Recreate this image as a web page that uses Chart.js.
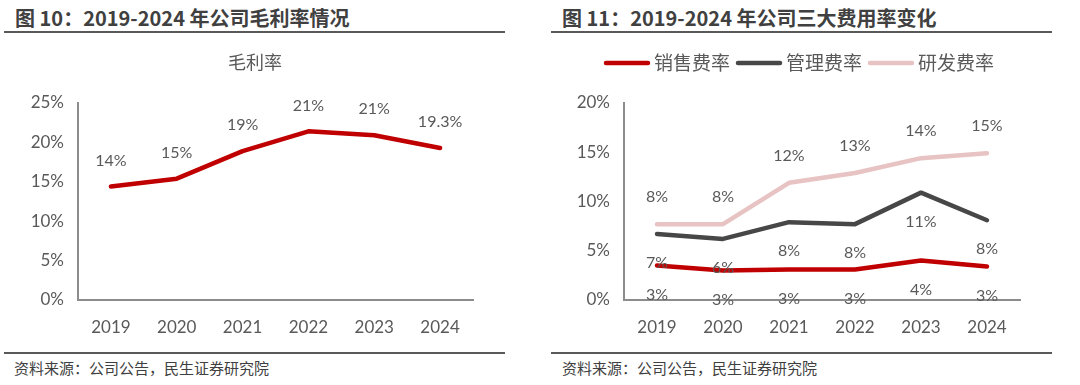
<!DOCTYPE html>
<html><head><meta charset="utf-8">
<script src="https://cdn.jsdelivr.net/npm/chart.js@4"></script>
<style>
body{margin:0;width:1080px;height:385px;background:#fff;position:relative;overflow:hidden;font-family:"Noto Sans CJK SC",sans-serif;}
.hd{position:absolute;top:4px;font-weight:bold;font-size:20px;color:#404040;line-height:28px;white-space:nowrap}
.rule{position:absolute;height:2px;background:#595959}
.ft{position:absolute;top:358px;font-size:15px;color:#404040;line-height:20px;white-space:nowrap}
.cv{position:absolute;top:40px;width:540px;height:310px}
</style></head>
<body>
<div class="hd" style="left:15px">图 10：2019-2024 年公司毛利率情况</div>
<div class="hd" style="left:562px">图 11：2019-2024 年公司三大费用率变化</div>
<div class="rule" style="left:4px;width:501px;top:31px"></div>
<div class="rule" style="left:551px;width:501px;top:31px"></div>
<div class="rule" style="left:4px;width:501px;top:352px"></div>
<div class="rule" style="left:551px;width:501px;top:352px"></div>
<div class="ft" style="left:14px">资料来源：公司公告，民生证券研究院</div>
<div class="ft" style="left:562px">资料来源：公司公告，民生证券研究院</div>
<div class="cv" style="left:0"><canvas id="c1" width="540" height="310"></canvas></div>
<div class="cv" style="left:540px"><canvas id="c2" width="540" height="310"></canvas></div>
<script>
const years = ['2019','2020','2021','2022','2023','2024'];
const grossMargin = [14.4, 15.4, 18.9, 21.4, 20.9, 19.3];
const grossLabels = ['14%','15%','19%','21%','21%','19.3%'];
const salesRate = [3.5, 3.0, 3.1, 3.1, 4.0, 3.4];
const adminRate = [6.7, 6.2, 7.9, 7.7, 10.9, 8.1];
const rdRate = [7.7, 7.7, 11.9, 12.9, 14.4, 14.9];
const salesLabels = ['3%','3%','3%','3%','4%','3%'];
const adminLabels = ['7%','6%','8%','8%','11%','8%'];
const rdLabels = ['8%','8%','12%','13%','14%','15%'];
const chart1Title = '毛利率';
const seriesNames = ['销售费率','管理费率','研发费率'];

const NUMF = 'Lato, "Noto Sans CJK SC", sans-serif';
const CJKF = '"Noto Sans CJK SC", sans-serif';
const TXT = '#595959';
const AX = '#8c8c8c';

const pointLabels = {
  id:'pointLabels',
  afterDatasetsDraw(chart){
    const ctx = chart.ctx;
    ctx.save();
    ctx.font = '16px ' + NUMF;
    ctx.fillStyle = TXT;
    ctx.textAlign = 'center';
    ctx.textBaseline = 'middle';
    chart.data.datasets.forEach((ds, di) => {
      const meta = chart.getDatasetMeta(di);
      meta.data.forEach((pt, i) => {
        ctx.fillText(ds.pointText[i], pt.x, pt.y + ds.labelShift);
      });
    });
    ctx.restore();
  }
};

const titlePlugin = {
  id:'titleDraw',
  afterDraw(chart){
    const o = chart.options.plugins.titleDraw;
    if(!o || !o.text) return;
    const ctx = chart.ctx;
    ctx.save();
    ctx.font = '18px ' + CJKF;
    ctx.fillStyle = TXT;
    ctx.textAlign = 'center';
    ctx.textBaseline = 'middle';
    ctx.fillText(o.text, o.x, o.y);
    ctx.restore();
  }
};

const legendPlugin = {
  id:'legendDraw',
  afterDraw(chart){
    const o = chart.options.plugins.legendDraw;
    if(!o || !o.show) return;
    const ctx = chart.ctx;
    ctx.save();
    ctx.font = '19px ' + CJKF;
    ctx.textBaseline = 'middle';
    let x = o.x;
    chart.data.datasets.forEach(ds => {
      ctx.strokeStyle = ds.borderColor;
      ctx.lineWidth = 4.5;
      ctx.lineCap = 'round';
      ctx.beginPath();
      ctx.moveTo(x + 2, o.y);
      ctx.lineTo(x + 44, o.y);
      ctx.stroke();
      x += 50;
      ctx.fillStyle = TXT;
      ctx.textAlign = 'left';
      ctx.fillText(ds.label, x, o.y);
      x += ctx.measureText(ds.label).width + 6;
    });
    ctx.restore();
  }
};

function scales(maxV, yWidth){
  return {
    x:{
      offset:true,
      grid:{display:false, drawTicks:false},
      border:{display:true, color:AX, width:2},
      ticks:{color:TXT, font:{size:17, family:NUMF}, padding:17},
      afterFit(s){ s.height = 50; }
    },
    y:{
      min:0, max:maxV,
      grid:{display:false, drawTicks:false},
      border:{display:true, color:AX, width:2},
      ticks:{stepSize:5, color:TXT, font:{size:17, family:NUMF}, padding:14, callback:v => v + '%'},
      afterFit(s){ s.width = yWidth; }
    }
  };
}

const lineDs = (label, data, color, text, shift) => ({
  label, data, borderColor:color, backgroundColor:color,
  borderWidth:4.5, pointRadius:0, tension:0, fill:false,
  borderCapStyle:'round', borderJoinStyle:'round',
  pointText:text, labelShift:shift
});

new Chart(document.getElementById('c1'), {
  type:'line',
  data:{labels:years, datasets:[lineDs(chart1Title, grossMargin, '#C00000', grossLabels, -26)]},
  options:{
    responsive:false, animation:false,
    layout:{padding:{top:63, left:0, right:67, bottom:0}},
    plugins:{legend:{display:false}, tooltip:{enabled:false}, title:{display:false},
      titleDraw:{text:chart1Title, x:255, y:22}},
    scales:scales(25, 78)
  },
  plugins:[pointLabels, titlePlugin]
});

new Chart(document.getElementById('c2'), {
  type:'line',
  data:{labels:years, datasets:[
    lineDs(seriesNames[0], salesRate, '#C00000', salesLabels, 29),
    lineDs(seriesNames[1], adminRate, '#474747', adminLabels, 29),
    lineDs(seriesNames[2], rdRate, '#E8C3C3', rdLabels, -27)
  ]},
  options:{
    responsive:false, animation:false,
    layout:{padding:{top:63, left:0, right:60, bottom:0}},
    plugins:{legend:{display:false}, tooltip:{enabled:false}, title:{display:false},
      legendDraw:{show:true, x:64, y:23}},
    scales:scales(20, 84)
  },
  plugins:[pointLabels, legendPlugin]
});
</script>
</body></html>
